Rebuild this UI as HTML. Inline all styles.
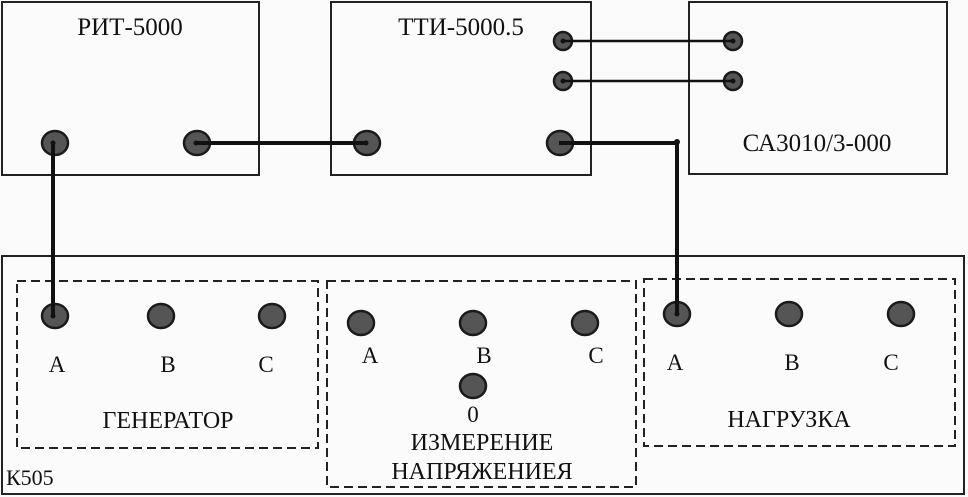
<!DOCTYPE html>
<html><head><meta charset="utf-8"><style>
html,body{margin:0;padding:0;background:#fbfbfb;}
svg{display:block;}
text{font-family:"Liberation Serif",serif;fill:#111;}
</style></head><body>
<svg width="968" height="497" viewBox="0 0 968 497" xmlns="http://www.w3.org/2000/svg">
<g fill="none" stroke="#222" stroke-width="2">
<rect x="2" y="2" width="257" height="173"/>
<rect x="331" y="2" width="260" height="173"/>
<rect x="689" y="2" width="258" height="172"/>
<rect x="2" y="256" width="962" height="238"/>
</g>
<g fill="none" stroke="#222" stroke-width="2" stroke-dasharray="9,5">
<rect x="17" y="281" width="301" height="167"/>
<rect x="327" y="281" width="309" height="206"/>
<rect x="644" y="279" width="311" height="167"/>
</g>
<g fill="#555" stroke="#1a1a1a" stroke-width="2.5">
<ellipse cx="55" cy="143" rx="13" ry="12"/>
<ellipse cx="197" cy="143" rx="13" ry="12"/>
<ellipse cx="367" cy="143" rx="13" ry="12"/>
<ellipse cx="563" cy="41" rx="9" ry="9"/>
<ellipse cx="563" cy="81" rx="9" ry="9"/>
<ellipse cx="733" cy="41" rx="9" ry="9"/>
<ellipse cx="733" cy="81" rx="9" ry="9"/>
<ellipse cx="560" cy="143" rx="13" ry="12"/>
<ellipse cx="55" cy="316" rx="13" ry="12"/>
<ellipse cx="161" cy="316" rx="13" ry="12"/>
<ellipse cx="272" cy="316" rx="13" ry="12"/>
<ellipse cx="361" cy="323" rx="13" ry="12"/>
<ellipse cx="473" cy="323" rx="13" ry="12"/>
<ellipse cx="585" cy="323" rx="13" ry="12"/>
<ellipse cx="473" cy="386" rx="13" ry="12"/>
<ellipse cx="677" cy="314" rx="13" ry="12"/>
<ellipse cx="789" cy="314" rx="13" ry="12"/>
<ellipse cx="901" cy="314" rx="13" ry="12"/>
</g>
<g fill="none" stroke="#111" stroke-width="4">
<polyline points="53,143 53,316"/>
<polyline points="196,143 366,143"/>
<polyline points="559,143 677,143 677,314"/>
</g>
<g fill="none" stroke="#111" stroke-width="2.5">
<line x1="563" y1="41" x2="733" y2="41"/>
<line x1="563" y1="81" x2="733" y2="81"/>
</g>
<circle cx="677" cy="142" r="3" fill="#111"/>
<g fill="#111">
<circle cx="53" cy="143" r="2.5"/><circle cx="196" cy="143" r="2.5"/><circle cx="366" cy="143" r="2.5"/>
<circle cx="563" cy="41" r="2.5"/><circle cx="563" cy="81" r="2.5"/><circle cx="733" cy="41" r="2.5"/><circle cx="733" cy="81" r="2.5"/>
<circle cx="53" cy="316" r="2.5"/><circle cx="677" cy="314" r="2.5"/>
</g>
<g font-size="25" text-anchor="middle">
<text x="130" y="35">РИТ-5000</text>
<text x="461" y="35">ТТИ-5000.5</text>
<text x="817" y="151">СА3010/3-000</text>
</g>
<g font-size="23" text-anchor="middle">
<text x="57" y="372">A</text><text x="168" y="372">B</text><text x="266" y="372">C</text>
<text x="370" y="363">A</text><text x="484" y="363">B</text><text x="596" y="363">C</text>
<text x="473" y="422">0</text>
<text x="675" y="370">A</text><text x="792" y="370">B</text><text x="891" y="370">C</text>
</g>
<g font-size="24" text-anchor="middle">
<text x="168" y="428">ГЕНЕРАТОР</text>
<text x="482" y="450">ИЗМЕРЕНИЕ</text>
<text x="482" y="479">НАПРЯЖЕНИЕЯ</text>
<text x="789" y="427">НАГРУЗКА</text>
</g>
<text x="6" y="485" font-size="22">К505</text>
</svg>
</body></html>
